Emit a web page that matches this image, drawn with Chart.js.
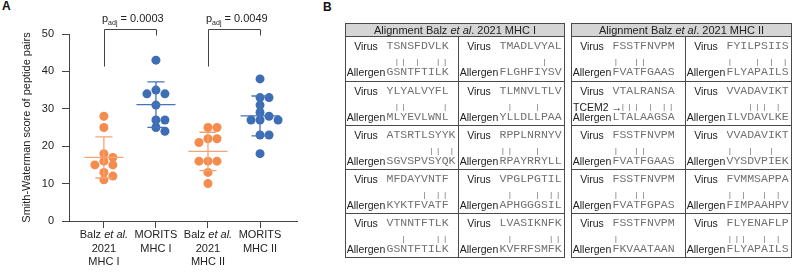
<!DOCTYPE html>
<html>
<head>
<meta charset="utf-8">
<title>Smith-Waterman scores of peptide pairs</title>
<script src="https://cdn.jsdelivr.net/npm/chart.js@4.4.1/dist/chart.umd.min.js"></script>
<style>
  body { margin: 0; width: 793px; height: 274px; position: relative; overflow: hidden; background: #fff;
         font-family: "Liberation Sans", Arial, sans-serif; color: #222; }
  #chartA { position: absolute; left: 0; top: 0; }
  .panel { position: absolute; font-size: 12px; font-weight: bold; line-height: 14px; color: #111; }
  .tbl { position: absolute; top: 23px; height: 235px; border: 1px solid #4a4a4a; box-sizing: border-box;
         background: #fff; filter: grayscale(100%); }
  .head { position: absolute; left: 0; right: 0; top: 0; height: 12px; line-height: 12px; background: #d5d5d5;
          border-bottom: 1px solid #4a4a4a; text-align: center; font-size: 11px; }
  .row { position: absolute; left: 0; right: 0; height: 44px; box-sizing: border-box; }
  .row + .row { border-top: 1px solid #4a4a4a; }
  .cell { position: absolute; top: 0; bottom: 0; box-sizing: border-box; }
  .cell.l { left: 0; border-right: 1px solid #4a4a4a; }
  .lab, .seq, .bar { position: absolute; height: 14px; line-height: 14px; white-space: pre; }
  .lab { font-size: 10.5px; color: #222; }
  .seq { font-family: "Liberation Mono", "Courier New", monospace; font-size: 11.5px; color: #707070; }
  .bar { font-family: "Liberation Mono", "Courier New", monospace; font-size: 8px; letter-spacing: 2.1px; color: #6a6a6a; }
</style>
</head>
<body>
<div class="panel" style="left:2px; top:-1px;">A</div>
<div class="panel" style="left:323px; top:0px;">B</div>
<canvas id="chartA" width="310" height="274"></canvas>

<script>
// ---- panel A data ----
const categories = [
    ['Balz et al.', '2021', 'MHC I'],
    ['MORITS', 'MHC I'],
    ['Balz et al.', '2021', 'MHC II'],
    ['MORITS', 'MHC II']
];
const balzMHCI = [28, 25, 18, 17, 16, 15, 15, 13, 12, 11];
const moritsMHCI = [43, 35, 34, 34, 31, 27, 27, 25, 24];
const balzMHCII = [25, 25, 22, 22, 21, 16, 16, 16, 13, 10];
const moritsMHCII = [38, 33, 33, 31, 29, 28, 27, 27, 27, 23, 23, 18];
const yTicks = [0, 10, 20, 30, 40, 50];
const comparisons = [
    { from: 1, to: 2, p: '0.0003' },
    { from: 3, to: 4, p: '0.0049' }
];

// ---- panel B data (virus, allergen, note), row by row: left cell then right cell ----
const mhcIPairs = [
    ['TSNSFDVLK', 'GSNTFTILK'], ['TMADLVYAL', 'FLGHFIYSV'],
    ['YLYALVYFL', 'MLYEVLWNL'], ['TLMNVLTLV', 'YLLDLLPAA'],
    ['ATSRTLSYYK', 'SGVSPVSYQK'], ['RPPLNRNYV', 'RPAYRRYLL'],
    ['MFDAYVNTF', 'KYKTFVATF'], ['VPGLPGTIL', 'APHGGGSIL'],
    ['VTNNTFTLK', 'GSNTFTILK'], ['LVASIKNFK', 'KVFRFSMFK']
];
const mhcIIPairs = [
    ['FSSTFNVPM', 'FVATFGAAS'], ['FYILPSIIS', 'FLYAPAILS'],
    ['VTALRANSA', 'LTALAAGSA', 'TCEM2 \u2192'], ['VVADAVIKT', 'ILVDAVLKE'],
    ['FSSTFNVPM', 'FVATFGAAS'], ['VVADAVIKT', 'VYSDVPIEK'],
    ['FSSTFNVPM', 'FVATFGPAS'], ['FVMMSAPPA', 'FIMPAAHPV'],
    ['FSSTFNVPM', 'FKVAATAAN'], ['FLYENAFLP', 'FLYAPAILS']
];

const groups = [balzMHCI, moritsMHCI, balzMHCII, moritsMHCII];
const dotColors = ['#F58B4C', '#3D6DB5', '#F58B4C', '#3D6DB5'];
const barColors = ['#F7A474', '#4674B8', '#F7A474', '#4674B8'];
const FONT = '"Liberation Sans", Arial, sans-serif';

// simple beeswarm so equal/close values sit side by side
const PX_PER_CAT = 52, PX_PER_UNIT = 187 / 50, DOT_GAP = 7.4, STEP = 4.5;
function swarm(vals, c) {
    const placed = [];
    [...vals].sort((a, b) => b - a).forEach(v => {
        const py = v * PX_PER_UNIT;
        for (let k = 0; ; k++) {
            const off = k === 0 ? 0 : (k % 2 ? 1 : -1) * Math.ceil(k / 2) * STEP;
            if (placed.every(p => Math.hypot(p.px - off, p.py - py) >= DOT_GAP)) {
                placed.push({ px: off, py: py, v: v });
                break;
            }
        }
    });
    return placed.map(p => ({ x: c + p.px / PX_PER_CAT, y: p.v }));
}

const meanOf = a => a.reduce((s, v) => s + v, 0) / a.length;
const sdOf = a => {
    const m = meanOf(a);
    return Math.sqrt(a.reduce((s, v) => s + (v - m) ** 2, 0) / (a.length - 1));
};

// draw text where "et al." is italic
function drawMixed(ctx, text, cx, base) {
    const parts = text.split(/(et al\.)/).filter(Boolean);
    const fontFor = p => (p === 'et al.' ? 'italic ' : '') + '11px ' + FONT;
    let w = 0;
    parts.forEach(p => { ctx.font = fontFor(p); w += ctx.measureText(p).width; });
    let x = cx - w / 2;
    parts.forEach(p => {
        ctx.font = fontFor(p);
        ctx.fillText(p, x, base);
        x += ctx.measureText(p).width;
    });
}

const errorBars = {
    id: 'errorBars',
    afterDatasetsDraw(chart) {
        const { ctx, scales: { x, y } } = chart;
        ctx.save();
        ctx.lineWidth = 1.3;
        groups.forEach((vals, i) => {
            const c = i + 1, m = meanOf(vals), s = sdOf(vals);
            const cx = x.getPixelForValue(c);
            ctx.strokeStyle = barColors[i];
            ctx.beginPath();
            ctx.moveTo(x.getPixelForValue(c - 0.375), y.getPixelForValue(m));
            ctx.lineTo(x.getPixelForValue(c + 0.375), y.getPixelForValue(m));
            ctx.moveTo(cx, y.getPixelForValue(m + s));
            ctx.lineTo(cx, y.getPixelForValue(m - s));
            [m + s, m - s].forEach(v => {
                ctx.moveTo(x.getPixelForValue(c - 0.165), y.getPixelForValue(v));
                ctx.lineTo(x.getPixelForValue(c + 0.165), y.getPixelForValue(v));
            });
            ctx.stroke();
        });
        ctx.restore();
    }
};

const annotations = {
    id: 'annotations',
    afterDraw(chart) {
        const { ctx, scales: { x, y }, chartArea } = chart;
        ctx.save();
        ctx.fillStyle = '#222';
        ctx.textAlign = 'left';
        ctx.textBaseline = 'alphabetic';

        // category labels under the x axis
        categories.forEach((lines, i) => {
            const cx = x.getPixelForValue(i + 1);
            lines.forEach((line, j) => drawMixed(ctx, line, cx, chartArea.bottom + 17 + j * 13.5));
        });

        // significance brackets
        comparisons.forEach(cmp => {
            const x1 = Math.round(x.getPixelForValue(cmp.from)) + 0.5;
            const x2 = Math.round(x.getPixelForValue(cmp.to)) + 0.5;
            const top = Math.round(y.getPixelForValue(51.4)) + 0.5;
            ctx.strokeStyle = '#444';
            ctx.lineWidth = 1;
            ctx.beginPath();
            ctx.moveTo(x1, y.getPixelForValue(41.3));
            ctx.lineTo(x1, top);
            ctx.lineTo(x2, top);
            ctx.lineTo(x2, y.getPixelForValue(49.6));
            ctx.stroke();

            let tx = x1 - 2.5;
            const base = top - 8;
            ctx.font = '11px ' + FONT;
            ctx.fillText('p', tx, base);
            tx += ctx.measureText('p').width;
            ctx.font = '7px ' + FONT;
            ctx.fillText('adj', tx, base + 3);
            tx += ctx.measureText('adj').width;
            ctx.font = '11px ' + FONT;
            ctx.fillText(' = ' + cmp.p, tx, base);
        });
        ctx.restore();
    }
};

new Chart(document.getElementById('chartA').getContext('2d'), {
    type: 'scatter',
    data: {
        datasets: groups.map((vals, i) => ({
            data: swarm(vals, i + 1),
            pointRadius: 4.5,
            pointHoverRadius: 4.5,
            pointBorderWidth: 0,
            pointBackgroundColor: dotColors[i]
        }))
    },
    options: {
        responsive: false,
        animation: false,
        layout: { padding: { top: 34, right: 13, bottom: 0, left: 0 } },
        plugins: { legend: { display: false }, tooltip: { enabled: false } },
        scales: {
            x: {
                type: 'linear',
                min: 0.33,
                max: 4.71,
                afterBuildTicks: scale => { scale.ticks = categories.map((c, i) => ({ value: i + 1 })); },
                afterFit: scale => { scale.height = 53; },
                ticks: { autoSkip: false, callback: () => '' },
                grid: { drawOnChartArea: false, drawTicks: true, tickLength: 7, color: '#444' },
                border: { display: true, color: '#444', width: 1 }
            },
            y: {
                min: 0,
                max: 50,
                afterBuildTicks: scale => { scale.ticks = yTicks.map(v => ({ value: v })); },
                afterFit: scale => { scale.width = 69; },
                ticks: { padding: 8, color: '#222', font: { size: 11, family: FONT } },
                grid: { drawOnChartArea: false, drawTicks: true, tickLength: 7, color: '#444' },
                border: { display: true, color: '#444', width: 1 },
                title: {
                    display: true,
                    text: 'Smith-Waterman score of peptide pairs',
                    color: '#222',
                    font: { size: 11, family: FONT },
                    padding: { top: 20, bottom: 0 }
                }
            }
        }
    },
    plugins: [errorBars, annotations]
});

// ---- panel B: alignment tables ----
function span(parent, cls, text, left, center) {
    const s = document.createElement('span');
    s.className = cls;
    s.textContent = text;
    s.style.left = left + 'px';
    s.style.top = (center - 7) + 'px';
    parent.appendChild(s);
    return s;
}

function buildTable(left, width, split, mhc, pairs) {
    const t = document.createElement('div');
    t.className = 'tbl';
    t.style.left = left + 'px';
    t.style.width = width + 'px';

    const head = document.createElement('div');
    head.className = 'head';
    head.innerHTML = 'Alignment Balz <i>et al</i>. 2021 ' + mhc;
    t.appendChild(head);

    for (let r = 0; r < pairs.length / 2; r++) {
        const row = document.createElement('div');
        row.className = 'row';
        row.style.top = (13 + r * 44) + 'px';
        [0, 1].forEach(k => {
            const [virus, allergen, note] = pairs[r * 2 + k];
            const cell = document.createElement('div');
            cell.className = 'cell' + (k === 0 ? ' l' : '');
            if (k === 0) cell.style.width = split + 'px';
            else { cell.style.left = split + 'px'; cell.style.right = '0px'; }

            const lv = span(cell, 'lab', 'Virus', 0, 9);
            lv.style.width = '40px'; lv.style.textAlign = 'center';
            const la = span(cell, 'lab', 'Allergen', 0, 35);
            la.style.width = '40px'; la.style.textAlign = 'center';
            if (note) span(cell, 'lab', note, 1, 25);

            span(cell, 'seq', virus, 40.5, 9);
            span(cell, 'seq', allergen, 40.5, 35);
            const match = [...virus].map((ch, i) => (ch === allergen[i] ? '|' : ' ')).join('');
            span(cell, 'bar', match, 41.5, 25);
            row.appendChild(cell);
        });
        t.appendChild(row);
    }
    document.body.appendChild(t);
}

buildTable(345, 220, 113, 'MHC I', mhcIPairs);
buildTable(571, 221, 114, 'MHC II', mhcIIPairs);
</script>
</body>
</html>
